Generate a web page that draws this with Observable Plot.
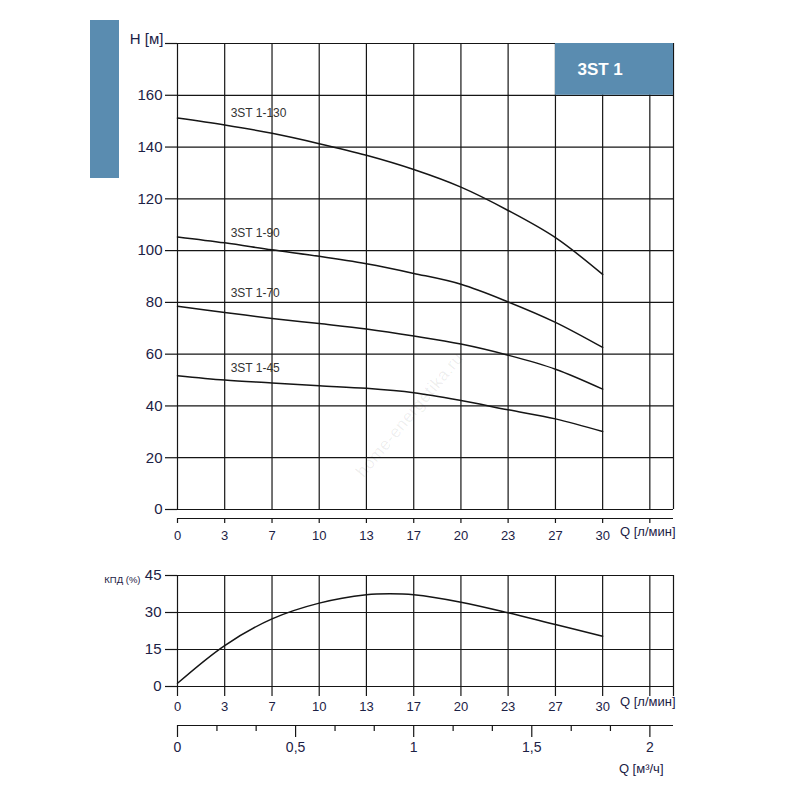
<!DOCTYPE html>
<html>
<head>
<meta charset="utf-8">
<script src="https://cdn.jsdelivr.net/npm/d3@7"></script>
<script src="https://cdn.jsdelivr.net/npm/@observablehq/plot@0.6"></script>
<style>
  body { margin: 0; background: #fff; }
  #wrap { position: relative; width: 800px; height: 800px; overflow: hidden; font-family: "Liberation Sans", Arial, Helvetica, sans-serif; }
  .panel { position: absolute; left: 0; }
  #bar { position: absolute; left: 90px; top: 20px; width: 29px; height: 158px; background: #5a8cb0; }
  #wm { position: absolute; left: 320px; top: 405px; width: 180px; text-align: center; font-size: 17px; color: rgba(0,0,0,0.07); transform: rotate(-50deg); letter-spacing: 0.5px; }
</style>
</head>
<body>
<div id="wrap">
  <div id="bar"></div>
  <div class="panel" id="p1" style="top:0px"></div>
  <div class="panel" id="p2" style="top:560px"></div>
  <div class="panel" id="p3" style="top:712px"></div>
  <div id="wm">home-energetika.ru</div>
</div>
<script>
// ---------- data ----------
const qLmin = [0, 3.33, 6.67, 10, 13.33, 16.67, 20, 23.33, 26.67, 30];
const h130 = [151.2, 148.5, 145.3, 141.3, 136.8, 131.3, 124.5, 115.5, 105.0, 90.8];
const h90  = [105.3, 103.0, 100.3, 97.8, 94.9, 91.2, 87.0, 80.2, 72.3, 62.6];
const h70  = [78.5, 76.1, 73.8, 71.8, 69.7, 67.0, 63.9, 59.6, 54.2, 46.5];
const h45  = [51.7, 50.0, 48.9, 47.8, 46.8, 45.1, 42.1, 38.5, 35.0, 30.1];
const models = ["3ST 1-130", "3ST 1-90", "3ST 1-70", "3ST 1-45"];
const labelQ = 3.75;
const labelH = [153.1, 106.6, 83.4, 54.5];

const effQ = [0, 3.33, 6.67, 10, 13.33, 15, 16.67, 20, 23.33, 26.67, 30];
const eff  = [1.3, 16.6, 27.4, 33.8, 37.2, 37.6, 37.2, 34.2, 29.9, 25.1, 20.4];

const qGrid = [0, 3.33, 6.67, 10, 13.33, 16.67, 20, 23.33, 26.67, 30, 33.33];
const qTickLabels = ["0", "3", "7", "10", "13", "17", "20", "23", "27", "30", ""];
const qMax = 35;
const hTicks = [0, 20, 40, 60, 80, 100, 120, 140, 160, 180];
const hTickLabels = ["0", "20", "40", "60", "80", "100", "120", "140", "160", ""];
const effTicks = [0, 15, 30, 45];
const m3Max = 2.1;
const m3Major = [0, 0.5, 1, 1.5, 2];
const m3Labels = ["0", "0,5", "1", "1,5", "2"];
const m3Minor = [0.167, 0.333, 0.667, 0.833, 1.167, 1.333, 1.667, 1.833];
const seriesTitle = "3ST 1";

// ---------- styles ----------
const ink = "#151515";
const labelInk = "#1c2145";
const blue = "#5a8cb0";
const font = "'Liberation Sans', Arial, Helvetica, sans-serif";
const gridW = 1.2;
const axisGap = 9;

const curves = [h130, h90, h70, h45].flatMap((hs, i) => hs.map((h, j) => ({model: models[i], q: qLmin[j], h})));
const effPts = effQ.map((q, i) => ({q, e: eff[i]}));
const baseStyle = {fontFamily: font, background: "transparent", overflow: "visible", color: labelInk};

// ---------- top panel: H vs Q ----------
const headPlot = Plot.plot({
  width: 800, height: 560,
  marginLeft: 177, marginRight: 127, marginTop: 43, marginBottom: 42,
  insetBottom: axisGap,
  x: {domain: [0, qMax], label: null},
  y: {domain: [0, 180], label: null},
  style: baseStyle,
  marks: [
    Plot.ruleY(hTicks, {x1: 0, x2: qMax, stroke: ink, strokeWidth: gridW}),
    Plot.ruleX([...qGrid, qMax], {y1: 0, y2: 180, stroke: ink, strokeWidth: gridW}),
    Plot.rect([seriesTitle], {x1: qGrid[8], x2: qMax, y1: hTicks[8], y2: hTicks[9], fill: blue}),
    Plot.text([seriesTitle], {x: qGrid[8], y: (hTicks[8] + hTicks[9]) / 2, dx: 22, textAnchor: "start",
      fill: "white", fontWeight: "bold", fontSize: 17, fontFamily: font}),
    Plot.line(curves, {x: "q", y: "h", z: "model", curve: "catmull-rom", stroke: ink, strokeWidth: 1.5}),
    Plot.text(models, {x: () => labelQ, y: (d, i) => labelH[i], text: d => d, textAnchor: "start", fontSize: 12, fill: "#333"}),
    Plot.axisY(hTicks, {label: null, tickSize: 12, tickPadding: 3, tickFormat: d => hTickLabels[hTicks.indexOf(d)], fontSize: 15, stroke: ink, strokeWidth: gridW, fill: labelInk}),
    Plot.ruleY([0], {x1: 0, x2: qMax, dy: axisGap, stroke: ink, strokeWidth: gridW}),
    Plot.axisX(qGrid, {label: null, tickSize: 5, tickPadding: 7, tickFormat: d => qTickLabels[qGrid.indexOf(d)], fontSize: 13, stroke: ink, strokeWidth: gridW, fill: labelInk}),
    Plot.text(["Q [л/мин]"], {frameAnchor: "bottom-right", textAnchor: "end", dx: 2, dy: 17, fontSize: 13, fill: labelInk}),
    Plot.text(["H [м]"], {frameAnchor: "top-left", textAnchor: "end", dx: -14, dy: -10, fontSize: 15, fill: labelInk})
  ]
});
document.getElementById("p1").appendChild(headPlot);

// ---------- lower panel: efficiency ----------
const effPlot = Plot.plot({
  width: 800, height: 160,
  marginLeft: 177, marginRight: 127, marginTop: 15, marginBottom: 34,
  x: {domain: [0, qMax], label: null},
  y: {domain: [0, 45], label: null},
  style: baseStyle,
  marks: [
    Plot.ruleY(effTicks, {x1: 0, x2: qMax, stroke: ink, strokeWidth: gridW}),
    Plot.ruleX([...qGrid, qMax], {y1: 0, y2: 45, stroke: ink, strokeWidth: gridW}),
    Plot.line(effPts, {x: "q", y: "e", curve: "catmull-rom", stroke: ink, strokeWidth: 1.5}),
    Plot.axisY(effTicks, {label: null, tickSize: 12, tickPadding: 4, fontSize: 15, stroke: ink, strokeWidth: gridW, fill: labelInk}),
    Plot.axisX([...qGrid, qMax], {label: null, tickSize: 10, tickPadding: 5, tickFormat: d => qTickLabels[qGrid.indexOf(d)] ?? "", fontSize: 13, stroke: ink, strokeWidth: gridW, fill: labelInk}),
    Plot.text(["КПД (%)"], {frameAnchor: "top-left", textAnchor: "end", dx: -37, dy: 1, fontSize: 9.5, fill: labelInk}),
    Plot.text(["Q [л/мин]"], {frameAnchor: "bottom-right", textAnchor: "end", dx: 2, dy: 19, fontSize: 13, fill: labelInk})
  ]
});
document.getElementById("p2").appendChild(effPlot);

// ---------- bottom axis: m³/h ----------
const m3Plot = Plot.plot({
  width: 800, height: 88,
  marginLeft: 177, marginRight: 127, marginTop: 0, marginBottom: 75,
  x: {domain: [0, m3Max], label: null},
  y: {domain: [0, 1], axis: null, label: null},
  style: baseStyle,
  marks: [
    Plot.ruleY([0], {x1: 0, x2: m3Max, stroke: ink, strokeWidth: gridW}),
    Plot.axisX(m3Minor, {label: null, tickSize: 6, tickFormat: () => "", stroke: ink, strokeWidth: gridW}),
    Plot.axisX(m3Major, {label: null, tickSize: 12, tickPadding: 5, tickFormat: d => m3Labels[m3Major.indexOf(d)], fontSize: 14, stroke: ink, strokeWidth: gridW, fill: labelInk}),
    Plot.text(["Q [м³/ч]"], {frameAnchor: "bottom-right", textAnchor: "end", dx: -10, dy: 47, fontSize: 13, fill: labelInk})
  ]
});
document.getElementById("p3").appendChild(m3Plot);
</script>
</body>
</html>
